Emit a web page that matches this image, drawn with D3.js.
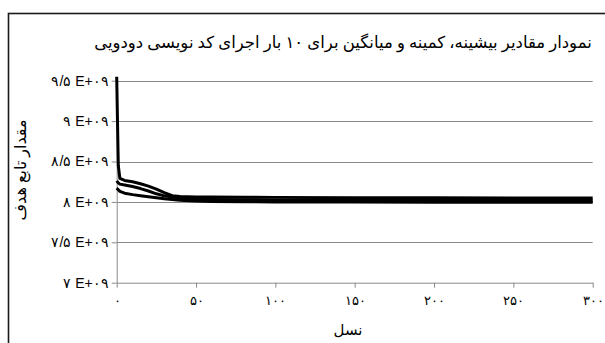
<!DOCTYPE html>
<html>
<head>
<meta charset="utf-8">
<script src="https://cdn.jsdelivr.net/npm/d3@7"></script>
<style>
  body { margin: 0; background: #fff; }
  svg { display: block; font-family: "Liberation Serif", "DejaVu Sans", serif; }
  .grid line { stroke: #8a8a8a; stroke-width: 1; }
  .axis path, .axis line { stroke: #8a8a8a; }
  .axis text { fill: #000; font-size: 14px; }
  .series { fill: none; stroke: #000; stroke-width: 3; stroke-linejoin: round; }
</style>
</head>
<body>
<div id="graphicContainer"></div>
<script>
// generation index of each sampled point
var generations = [0, 1, 2, 5, 10, 15, 20, 25, 30, 35, 40, 50, 60, 80, 100, 150, 200, 250, 300]
// values in units of 1e9
var maxVals  = [9.55, 8.45, 8.29, 8.265, 8.25, 8.225, 8.195, 8.157, 8.114, 8.077, 8.066, 8.062, 8.06, 8.058, 8.056, 8.052, 8.05, 8.049, 8.048]
var meanVals = [8.26, 8.235, 8.22, 8.21, 8.19, 8.165, 8.135, 8.1, 8.075, 8.06, 8.045, 8.035, 8.03, 8.028, 8.025, 8.022, 8.02, 8.019, 8.018]
var minVals  = [8.17, 8.15, 8.13, 8.108, 8.09, 8.077, 8.064, 8.052, 8.04, 8.03, 8.02, 8.01, 8.005, 8.002, 8.0, 7.998, 7.997, 7.996, 7.996]

var yTicks = [7, 7.5, 8, 8.5, 9, 9.5]
var yTickLabels = ["۷ E+۰۹", "۷/۵ E+۰۹", "۸ E+۰۹", "۸/۵ E+۰۹", "۹ E+۰۹", "۹/۵ E+۰۹"]
var xTicks = [0, 50, 100, 150, 200, 250, 300]
var xTickLabels = ["۰", "۵۰", "۱۰۰", "۱۵۰", "۲۰۰", "۲۵۰", "۳۰۰"]

var title = "نمودار مقادیر بیشینه، کمینه و میانگین برای ۱۰ بار اجرای کد نویسی دودویی"
var xTitle = "نسل"
var yTitle = "مقدار تابع هدف"

var width = 605, height = 343
var plot = { left: 116.7, right: 592.7, top: 80.7, bottom: 282.7 }

var svg = d3.select("#graphicContainer").append("svg")
  .attr("width", width)
  .attr("height", height)

// outer frame (runs off the right and bottom edges)
svg.append("rect")
  .attr("x", 8.5).attr("y", 13.5)
  .attr("width", 700).attr("height", 400)
  .attr("fill", "none")
  .attr("stroke", "#1a1a1a")
  .attr("stroke-width", 1.6)

var x = d3.scaleLinear().domain([0, 300]).range([plot.left, plot.right])
var y = d3.scaleLinear().domain([7, 9.5]).range([plot.bottom, plot.top])

svg.append("g").attr("class", "grid")
  .selectAll("line")
  .data(yTicks.filter(d => d > 7))
  .enter().append("line")
  .attr("x1", plot.left).attr("x2", plot.right)
  .attr("y1", d => Math.round(y(d)) + 0.5)
  .attr("y2", d => Math.round(y(d)) + 0.5)

var yAxis = d3.axisLeft(y)
  .tickValues(yTicks)
  .tickSize(5)
  .tickSizeOuter(0)
  .tickPadding(3)
  .tickFormat((d, i) => yTickLabels[i])

var xAxis = d3.axisBottom(x)
  .tickValues(xTicks)
  .tickSize(5)
  .tickSizeOuter(0)
  .tickPadding(8)
  .tickFormat((d, i) => xTickLabels[i])

svg.append("g").attr("class", "axis y")
  .attr("transform", "translate(" + plot.left + ",0)")
  .call(yAxis)
  .selectAll("text").style("font-size", "14px")

svg.append("g").attr("class", "axis x")
  .attr("transform", "translate(0," + plot.bottom + ")")
  .call(xAxis)
  .selectAll("text").style("font-size", "13px")

var line = d3.line()
  .x((d, i) => x(generations[i]))
  .y(d => y(d))

;[maxVals, meanVals, minVals].forEach(function (vals) {
  svg.append("path")
    .datum(vals)
    .attr("class", "series")
    .attr("d", line)
})

svg.append("text")
  .attr("x", 343).attr("y", 48)
  .attr("text-anchor", "middle")
  .style("font-size", "16.5px")
  .text(title)

svg.append("text")
  .attr("x", 348).attr("y", 335)
  .attr("text-anchor", "middle")
  .style("font-size", "15px")
  .text(xTitle)

svg.append("text")
  .attr("transform", "translate(26,170) rotate(-90)")
  .attr("text-anchor", "middle")
  .style("font-size", "16px")
  .text(yTitle)
</script>
</body>
</html>
